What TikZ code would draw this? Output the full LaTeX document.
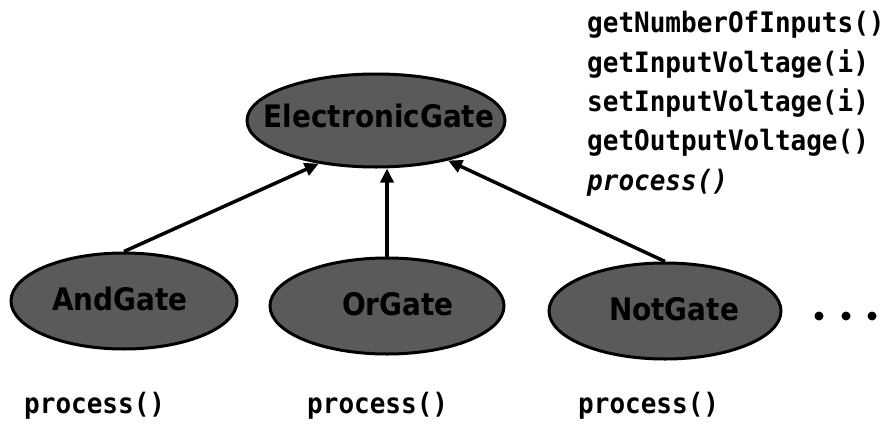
\documentclass[tikz,border=0pt]{standalone}
\usepackage{fontspec}
\usetikzlibrary{shapes.geometric,arrows.meta}
\newfontfamily\gatefont{DejaVu Sans}
\newfontfamily\codefont{DejaVu Sans Mono}
\definecolor{gatefill}{HTML}{5A5A5A}
% gate names: slightly narrowed bold sans
\newcommand\gatename[1]{\scalebox{0.9}[1]{#1}}
% code text: a little taller than the plain mono face
\newcommand\codetext[1]{\scalebox{1}[1.08]{#1}}
\begin{document}
\begin{tikzpicture}[x=1pt,y=-1pt,
  gate/.style={ellipse, draw=black, line width=3pt, fill=gatefill, inner sep=0pt},
  gatelabel/.style={font=\gatefont\bfseries\fontsize{31}{32}\selectfont, text=black, inner sep=0pt, anchor=base},
  method/.style={font=\codefont\bfseries\fontsize{26}{30}\selectfont, inner sep=0pt, anchor=base west},
  inherit/.style={line width=3.5pt, -{Triangle[length=14pt,width=13pt]}},
  dotmark/.style={circle, fill=black, minimum size=9pt, inner sep=0pt}]
\useasboundingbox (0,0) rectangle (891,423);

% class hierarchy: base class on top, subclasses below
\node[gate, minimum width=258pt, minimum height=93pt] (eg)  at (376,120.5) {};
\node[gate, minimum width=226pt, minimum height=96pt] (and) at (124,301) {};
\node[gate, minimum width=234pt, minimum height=96pt] (or)  at (387,306) {};
\node[gate, minimum width=232pt, minimum height=96pt] (not) at (665,311) {};

\node[gatelabel] (egl)  at (379,127) {\gatename{ElectronicGate}};
\node[gatelabel] (andl) at (120,310) {\gatename{AndGate}};
\node[gatelabel] (orl)  at (398,315) {\gatename{OrGate}};
\node[gatelabel] (notl) at (674,320) {\gatename{NotGate}};

% inheritance arrows
\draw[inherit] (and.north) -- (eg.217);
\draw[inherit] (or.north) -- (or.north |- eg.south);
\draw[inherit] (not.north) -- (eg.331);

% more subclasses
\node[dotmark] (d1) at (819,316) {};
\node[dotmark] (d2) at (846,316) {};
\node[dotmark] (d3) at (872,316) {};

% interface of the base class
\node[method] (m1) at (587,32)  {\codetext{getNumberOfInputs()}};
\node[method] (m2) at (587,72)  {\codetext{getInputVoltage(i)}};
\node[method] (m3) at (587,111) {\codetext{setInputVoltage(i)}};
\node[method] (m4) at (587,150) {\codetext{getOutputVoltage()}};
\node[method, font=\codefont\bfseries\itshape\fontsize{26}{30}\selectfont] (m5) at (587,190) {\codetext{process()}};

% overriding implementations
\node[method] (p1) at (24,413)  {\codetext{process()}};
\node[method] (p2) at (307,413) {\codetext{process()}};
\node[method] (p3) at (578,413) {\codetext{process()}};
\end{tikzpicture}
\end{document}
